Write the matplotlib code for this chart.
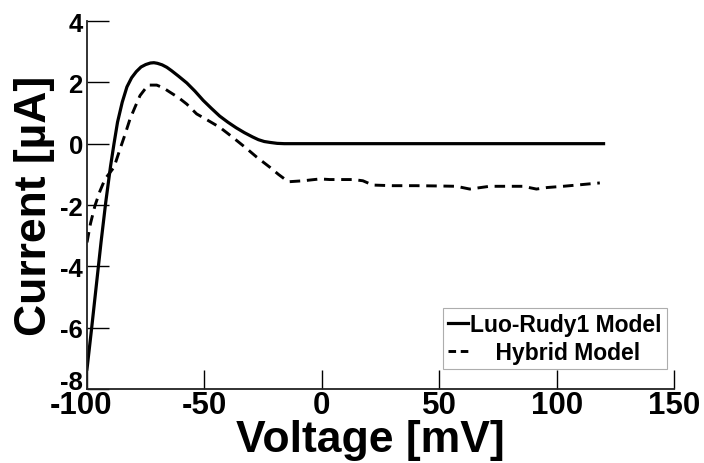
import matplotlib
matplotlib.use("Agg")
import matplotlib.pyplot as plt
import matplotlib.transforms as mtransforms

plt.rcParams["font.family"] = ["Liberation Sans", "DejaVu Sans"]
plt.rcParams["font.weight"] = "bold"
plt.rcParams["axes.unicode_minus"] = False

# Luo-Rudy 1 model current-voltage curve
lr_voltage = [-100, -98, -96, -94, -92, -90, -88.5, -87, -85, -83, -81, -79, -77,
              -75, -73, -71.5, -70, -68, -66, -64, -61, -57.5, -54, -50.5, -47,
              -43.5, -40, -36.5, -33, -29.5, -27, -24.5, -22, -19, -16, -13, 0,
              20, 40, 60, 80, 100, 120]
lr_current = [-7.35, -6.0, -4.6, -3.2, -1.9, -0.75, 0.0, 0.7, 1.35, 1.85, 2.15,
              2.35, 2.5, 2.58, 2.63, 2.64, 2.62, 2.57, 2.49, 2.38, 2.2, 1.98,
              1.71, 1.41, 1.15, 0.9, 0.7, 0.52, 0.36, 0.22, 0.13, 0.07, 0.04,
              0.01, 0.0, 0.0, 0.0, 0.0, 0.0, 0.0, 0.0, 0.0, 0.0]

# Hybrid model current-voltage curve
hy_voltage = [-100, -98.5, -96.6, -94.5, -92.3, -90.3, -88.5, -85.9, -83.8, -81.7,
              -79.5, -77.4, -75.5, -73.9, -70.3, -67.5, -64.7, -61, -57.5,
              -53.3, -48.5, -43.4, -40, -36.2, -32, -27.7, -22.1, -18.5, -15,
              -13.8, -7.9, -0.8, 3.4, 13.4, 17.5, 21.7, 30, 40, 50, 57.3, 63,
              71.5, 80, 85.7, 91.4, 96, 102.8, 110, 118.4]
hy_current = [-3.22, -2.6, -2.02, -1.55, -1.15, -0.95, -0.77, -0.17, 0.3, 0.8,
              1.2, 1.57, 1.76, 1.91, 1.91, 1.82, 1.68, 1.5, 1.29, 0.97, 0.76,
              0.53, 0.33, 0.1, -0.16, -0.44, -0.77, -1.0, -1.2, -1.24, -1.21,
              -1.15, -1.17, -1.17, -1.21, -1.35, -1.37, -1.37, -1.38, -1.39,
              -1.48, -1.39, -1.39, -1.39, -1.48, -1.43, -1.39, -1.34, -1.28]

x_ticks = [-100, -50, 0, 50, 100, 150]
y_ticks = [-8, -6, -4, -2, 0, 2, 4]

fig = plt.figure(figsize=(7.04, 4.64), dpi=100)
ax = fig.add_axes([87 / 704, 1 - 390 / 464, (674 - 87) / 704, (390 - 22) / 464])

ax.plot(lr_voltage, lr_current, color="black", lw=2.3, solid_joinstyle="round",
        label="Luo-Rudy1 Model")
ax.plot(hy_voltage, hy_current, color="black", lw=2.1, dashes=(3.6, 2.3),
        label="    Hybrid Model")

ax.set_xlim(-100, 150)
ax.set_ylim(-8, 4)
ax.set_xticks(x_ticks)
ax.set_yticks(y_ticks)
ax.tick_params(axis="x", direction="in", length=14, width=1.0, pad=1,
               labelsize=22.5)
ax.tick_params(axis="y", direction="in", length=16, width=1.0, pad=3,
               labelsize=18.5)
for lab in ax.get_xticklabels() + ax.get_yticklabels():
    lab.set_fontweight("bold")

# nudge the two corner labels apart
fig.canvas.draw()
xl = ax.get_xticklabels()[0]
xl.set_transform(xl.get_transform() +
                 mtransforms.ScaledTranslation(-6 / 100, 0, fig.dpi_scale_trans))
yl = ax.get_yticklabels()[0]
yl.set_transform(yl.get_transform() +
                 mtransforms.ScaledTranslation(0, 9 / 100, fig.dpi_scale_trans))

for side in ("top", "right"):
    ax.spines[side].set_visible(False)
for side in ("left", "bottom"):
    ax.spines[side].set_linewidth(1.3)
    ax.spines[side].set_color("#222222")

ax.set_xlabel("Voltage [mV]", fontsize=32, fontweight="bold")
ax.set_ylabel("Current [µA]", fontsize=32, fontweight="bold")
ax.xaxis.set_label_coords((370 - 87) / (674 - 87), -0.082)
ax.yaxis.set_label_coords((55 - 87) / (674 - 87), 0.5)

leg = ax.legend(loc="upper left", bbox_to_anchor=(443 / 704, 1 - 309 / 464),
                bbox_transform=fig.transFigure, frameon=True,
                fancybox=False, handlelength=0.9, handletextpad=0.1,
                borderpad=0.2, labelspacing=0.25, borderaxespad=0,
                prop={"weight": "bold", "size": 16.5})
leg.legend_handles[1].set_dashes((2.6, 1.6))
leg.get_frame().set_edgecolor("#999999")
leg.get_frame().set_linewidth(0.8)

fig.savefig("out.png", dpi=100)
